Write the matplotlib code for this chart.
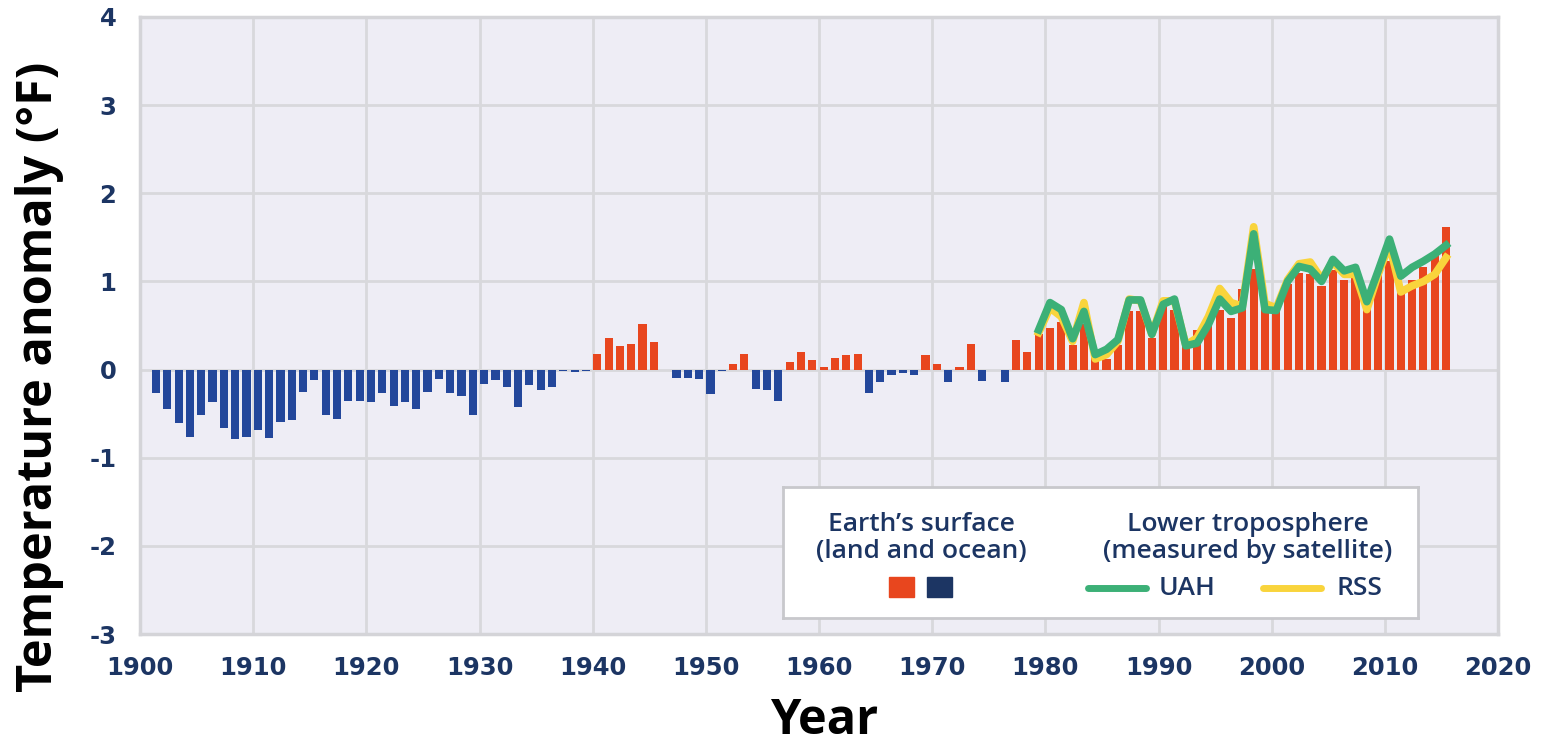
import numpy as np
import matplotlib.pyplot as plt
from matplotlib.patches import Rectangle

plt.rcParams["axes.unicode_minus"] = False

# surface anomaly (deg F), one value per year 1901-2015
surface_years = np.arange(1901, 2016)
surface = [
    -0.27, -0.45, -0.61, -0.76, -0.52, -0.37, -0.66, -0.79, -0.77, -0.68,   # 1901-1910
    -0.78, -0.59, -0.57, -0.25, -0.12, -0.52, -0.56, -0.36, -0.36, -0.37,   # 1911-1920
    -0.27, -0.41, -0.37, -0.45, -0.25, -0.11, -0.27, -0.30, -0.52, -0.16,   # 1921-1930
    -0.12, -0.20, -0.43, -0.18, -0.23, -0.20, -0.02, -0.03, -0.02, 0.18,    # 1931-1940
    0.36, 0.27, 0.29, 0.52, 0.31, 0.00, -0.09, -0.09, -0.11, -0.28,         # 1941-1950
    -0.02, 0.06, 0.18, -0.22, -0.23, -0.36, 0.09, 0.20, 0.11, 0.03,         # 1951-1960
    0.13, 0.16, 0.18, -0.27, -0.14, -0.06, -0.04, -0.06, 0.16, 0.06,        # 1961-1970
    -0.14, 0.03, 0.29, -0.13, 0.00, -0.14, 0.34, 0.20, 0.40, 0.47,          # 1971-1980
    0.54, 0.28, 0.52, 0.14, 0.12, 0.28, 0.66, 0.66, 0.36, 0.72,             # 1981-1990
    0.68, 0.27, 0.45, 0.53, 0.68, 0.59, 0.91, 1.14, 0.70, 0.70,             # 1991-2000
    0.97, 1.09, 1.08, 0.95, 1.13, 1.02, 1.06, 0.88, 1.08, 1.23,             # 2001-2010
    0.93, 1.02, 1.16, 1.33, 1.62,                                           # 2011-2015
]

# lower troposphere (satellite), 1979-2015
sat_years = np.arange(1979, 2016)
uah = [0.45, 0.76, 0.68, 0.35, 0.66, 0.17, 0.23, 0.34, 0.79, 0.79,
       0.40, 0.74, 0.80, 0.27, 0.30, 0.51, 0.80, 0.66, 0.70, 1.54,
       0.68, 0.67, 1.00, 1.17, 1.14, 1.00, 1.25, 1.12, 1.16, 0.77,
       1.12, 1.48, 1.06, 1.16, 1.23, 1.31, 1.41]
rss = [0.42, 0.70, 0.60, 0.32, 0.76, 0.12, 0.17, 0.32, 0.80, 0.78,
       0.40, 0.78, 0.78, 0.28, 0.36, 0.60, 0.92, 0.76, 0.72, 1.62,
       0.75, 0.70, 1.02, 1.20, 1.22, 1.03, 1.22, 1.08, 1.08, 0.68,
       1.08, 1.42, 0.88, 0.95, 1.00, 1.08, 1.27]

xticks = list(range(1900, 2021, 10))
yticks = list(range(-3, 5))

ORANGE = "#e8461e"
BLUE = "#23479b"
NAVY = "#1c3563"
GREEN = "#3cb077"
YELLOW = "#f9d43c"

W, H = 1563, 746
fig = plt.figure(figsize=(W / 100, H / 100), dpi=100)
ax = fig.add_axes([140 / W, 1 - 634 / H, 1358 / W, 617 / H])
ax.set_facecolor("#eeedf5")
ax.set_xlim(1900, 2020)
ax.set_ylim(-3, 4)
ax.set_xticks(xticks)
ax.set_yticks(yticks)
ax.grid(color="#d8d8dc", linewidth=2)
ax.set_axisbelow(True)
for s in ax.spines.values():
    s.set_color("#d4d4d8")
    s.set_linewidth(2.5)
ax.tick_params(axis="both", length=0, labelcolor=NAVY, labelsize=17.5)
ax.tick_params(axis="y", pad=17)
ax.tick_params(axis="x", pad=16)
for lab in ax.get_xticklabels() + ax.get_yticklabels():
    lab.set_fontweight("bold")
    lab.set_family("DejaVu Sans")

vals = np.array(surface)
colors = [ORANGE if v > 0 else BLUE for v in vals]
ax.bar(surface_years + 0.41, vals, width=0.72, color=colors, zorder=2)

ax.plot(sat_years + 0.41, rss, color=YELLOW, linewidth=5.5, zorder=3)
ax.plot(sat_years + 0.41, uah, color=GREEN, linewidth=5.5, zorder=4)

fig.text(40 / W, 1 - 377 / H, "Temperature anomaly (°F)", rotation=90,
         ha="center", va="center", fontsize=35, fontweight="bold",
         family="Open Sans", color="black")
fig.text(824 / W, 1 - 721 / H, "Year", ha="center", va="center",
         fontsize=35, fontweight="bold", family="Open Sans", color="black")

# legend panel
lax = fig.add_axes([783 / W, 1 - 618 / H, 635 / W, 131 / H])
lax.set_xlim(0, 635)
lax.set_ylim(131, 0)
lax.set_xticks([])
lax.set_yticks([])
lax.set_facecolor("white")
for s in lax.spines.values():
    s.set_color("#c8c8cc")
    s.set_linewidth(2)

tkw = dict(fontsize=19, family="Open Sans", fontweight="semibold", color=NAVY,
           va="baseline")
lax.text(138, 44, "Earth’s surface", ha="center", **tkw)
lax.text(138, 71, "(land and ocean)", ha="center", **tkw)
lax.text(465, 44, "Lower troposphere", ha="center", **tkw)
lax.text(465, 71, "(measured by satellite)", ha="center", **tkw)
lax.add_patch(Rectangle((106, 90), 25, 20, color=ORANGE))
lax.add_patch(Rectangle((144, 90), 25, 20, color=NAVY))
lax.plot([305, 363], [101, 101], color=GREEN, linewidth=5, solid_capstyle="round")
lax.text(376, 108, "UAH", ha="left", **tkw)
lax.plot([480, 538], [101, 101], color=YELLOW, linewidth=5, solid_capstyle="round")
lax.text(553, 108, "RSS", ha="left", **tkw)

fig.savefig("out.png", dpi=100, facecolor="white")
